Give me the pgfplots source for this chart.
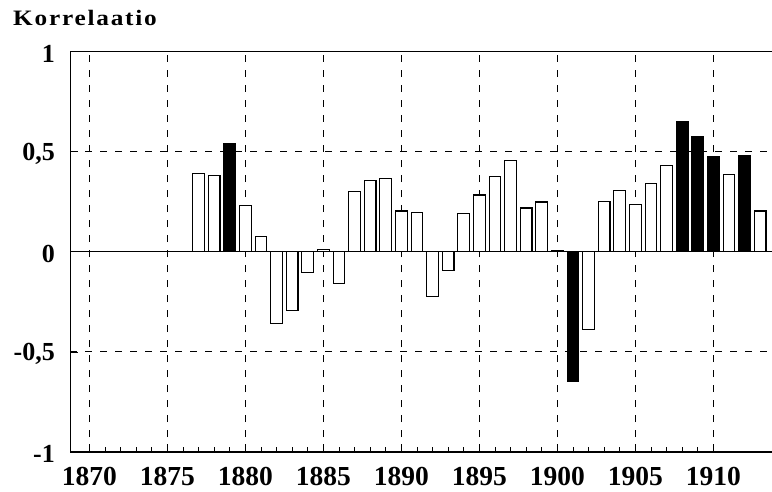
\documentclass[border=0pt]{standalone}
\usepackage{fontspec}
\setmainfont{Liberation Serif}
\usepackage{pgfplots}
\usepackage{pgfplotstable}
\pgfplotsset{compat=1.18}

% white bars
\pgfplotstableread{
year val
1877 0.39
1878 0.38
1880 0.23
1881 0.075
1882 -0.356
1883 -0.295
1884 -0.104
1885 0.012
1886 -0.156
1887 0.30
1888 0.355
1889 0.368
1890 0.204
1891 0.196
1892 -0.225
1893 -0.093
1894 0.193
1895 0.284
1896 0.378
1897 0.456
1898 0.219
1899 0.249
1900 0.008
1902 -0.39
1903 0.25
1904 0.307
1905 0.237
1906 0.342
1907 0.43
1911 0.387
1913 0.204
}\whitebars

% black bars
\pgfplotstableread{
year val
1879 0.54
1901 -0.65
1908 0.65
1909 0.576
1910 0.478
1912 0.481
}\blackbars

\begin{document}
\begin{tikzpicture}
\path[use as bounding box] (0,0) rectangle (772pt,491pt);
\node[anchor=base west, inner sep=0pt,
  font=\fontsize{22}{26}\selectfont\bfseries\addfontfeature{FakeStretch=1.15,LetterSpace=8}]
  at (13pt,465.5pt) {Korrelaatio};
\begin{axis}[
    at={(70.3pt,39pt)}, anchor=south west,
    scale only axis,
    width=703.7pt, height=400.3pt,
    xmin=1868.78, xmax=1913.89,
    ymin=-1, ymax=1,
    axis line style={line width=1.4pt},
    xtick={1870,1875,...,1910},
    xticklabels={1870,1875,1880,1885,1890,1895,1900,1905,1910},
    ytick={-1,-0.5,0.5,1},
    yticklabels={-1,{-0,5},{0,5},1},
    extra y ticks={0},
    extra y tick labels={0},
    extra y tick style={ymajorgrids=true, major grid style={solid, black, line width=1.2pt}},
    minor x tick num=4,
    minor y tick num=4,
    xtick pos=bottom, ytick pos=left,
    tick align=inside,
    major tick length=8pt, minor tick length=5pt,
    tick style={black, line width=0.8pt},
    xmajorgrids, ymajorgrids,
    major grid style={black, line width=0.9pt, dash pattern=on 7pt off 8pt},
    xticklabel style={anchor=north, inner sep=0pt, yshift=-15pt,
      font=\fontsize{27.5}{30}\selectfont\bfseries},
    yticklabel style={anchor=east, inner sep=0pt, xshift=-15.3pt, yshift=-2pt,
      font=\fontsize{26}{30}\selectfont\bfseries},
]
\addplot[ybar, bar width=11.7pt, bar shift=0pt, fill=white, draw=black, line width=1.1pt]
  table[x=year, y=val] {\whitebars};
\addplot[ybar, bar width=11.7pt, bar shift=0pt, fill=black, draw=black, line width=1.1pt]
  table[x=year, y=val] {\blackbars};
\end{axis}
\end{tikzpicture}
\end{document}
